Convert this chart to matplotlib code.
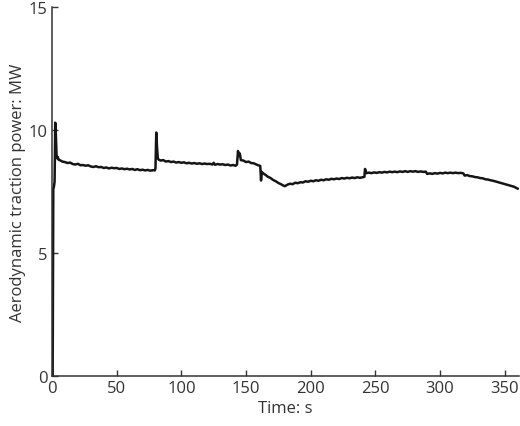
import matplotlib.pyplot as plt

plt.rcParams['font.family'] = ['Open Sans', 'DejaVu Sans']

# time in s, aerodynamic traction power in MW
time = [0, 0.5, 1.0, 1.5, 2.0, 2.5, 3.0, 3.5, 4.0, 4.5, 5.0,
        6, 8, 10, 12, 14, 16, 18, 20, 22, 24, 26, 28, 30, 32, 34, 36, 38, 40,
        42, 44, 46, 48, 50, 52, 54, 56, 58, 60, 62, 64, 66, 68, 70, 72, 74,
        76, 78, 79.5, 80, 80.6, 81.2, 81.8, 82.5,
        84, 86, 88, 90, 92, 94, 96, 98, 100, 102, 104, 106, 108, 110, 112,
        114, 116, 118, 120, 122, 124, 125, 126, 128, 130, 132, 134, 136, 138,
        140, 142, 143, 143.8, 144.5, 145.2, 146,
        148, 150, 152, 154, 156, 158, 160, 161, 161.6, 162.2, 163,
        165, 167, 169, 171, 173, 175, 177, 179, 180,
        182, 184, 186, 188, 190, 192, 194, 196, 198, 200, 202, 204, 206, 208,
        210, 212, 214, 216, 218, 220, 222, 224, 226, 228, 230, 232, 234, 236,
        238, 240, 241.5, 242, 243, 245,
        247, 249, 251, 253, 255, 257, 259, 261, 263, 265, 267, 269, 271, 273,
        275, 277, 279, 281, 283, 285, 287, 289, 290, 292, 294, 296, 298, 300,
        302, 304, 306, 308, 310, 312, 314, 316, 318, 319, 321, 323, 325, 327,
        329, 331, 333, 335, 337, 339, 341, 343, 345, 347, 349, 351, 353, 355,
        357, 359, 360]
power = [0, 0, 7.6, 7.7, 7.9, 10.3, 9.8, 9.0, 8.85, 8.9, 8.8,
         8.78, 8.72, 8.7, 8.66, 8.68, 8.62, 8.6, 8.63, 8.57, 8.58, 8.55, 8.57,
         8.52, 8.5, 8.53, 8.49, 8.5, 8.46, 8.48, 8.44, 8.47, 8.45, 8.46, 8.42,
         8.44, 8.41, 8.43, 8.4, 8.42, 8.38, 8.41, 8.37, 8.39, 8.36, 8.38, 8.35,
         8.37, 8.36, 8.45, 9.9, 9.3, 8.85, 8.8,
         8.76, 8.78, 8.72, 8.74, 8.7, 8.72, 8.68, 8.7, 8.67, 8.69, 8.65, 8.67,
         8.64, 8.66, 8.63, 8.65, 8.62, 8.64, 8.62, 8.63, 8.6, 8.67, 8.59, 8.62,
         8.6, 8.61, 8.58, 8.6, 8.56, 8.58, 8.55, 8.6, 9.15, 8.95, 9.05, 8.78,
         8.76, 8.7, 8.72, 8.66, 8.65, 8.6, 8.56, 8.54, 7.95, 8.3, 8.25,
         8.18, 8.1, 8.05, 7.97, 7.92, 7.85, 7.8, 7.74, 7.72,
         7.78, 7.82, 7.8, 7.86, 7.84, 7.88, 7.87, 7.92, 7.9, 7.94, 7.92, 7.96,
         7.94, 7.98, 7.96, 8.0, 7.98, 8.02, 8.0, 8.03, 8.01, 8.05, 8.03, 8.06,
         8.04, 8.07, 8.05, 8.08, 8.06, 8.08, 8.1, 8.42, 8.25, 8.27,
         8.25, 8.28, 8.26, 8.29, 8.27, 8.3, 8.28, 8.31, 8.29, 8.31, 8.29, 8.32,
         8.3, 8.33, 8.3, 8.33, 8.31, 8.33, 8.3, 8.32, 8.3, 8.31, 8.22, 8.24,
         8.22, 8.25, 8.23, 8.26, 8.24, 8.27, 8.25, 8.27, 8.25, 8.27, 8.25, 8.26,
         8.24, 8.15, 8.17, 8.13, 8.12, 8.09, 8.08, 8.05, 8.04, 8.0, 7.99, 7.96,
         7.94, 7.91, 7.88, 7.85, 7.82, 7.79, 7.76, 7.73, 7.7, 7.65, 7.62]

fig = plt.figure(figsize=(5.2, 4.27), dpi=100)
ax = fig.add_axes([0.1, 0.117, 0.898, 0.864])

ax.plot(time, power, color='#151515', linewidth=1.8)

ax.set_xlim(0, 361)
ax.set_ylim(0, 15)
ax.set_xticks([0, 50, 100, 150, 200, 250, 300, 350])
ax.set_yticks([0, 5, 10, 15])

for side in ['top', 'right']:
    ax.spines[side].set_visible(False)
for side in ['left', 'bottom']:
    ax.spines[side].set_linewidth(1.1)
    ax.spines[side].set_color('#333333')

ax.tick_params(direction='in', length=4, width=1, color='#333333',
               labelsize=12, labelcolor='#333333', pad=3)
ax.set_xlabel('Time: s', fontsize=12, color='#333333', labelpad=3)
ax.set_ylabel('Aerodynamic traction power: MW', fontsize=12, color='#333333', labelpad=2)

fig.savefig('out.png', dpi=100)
